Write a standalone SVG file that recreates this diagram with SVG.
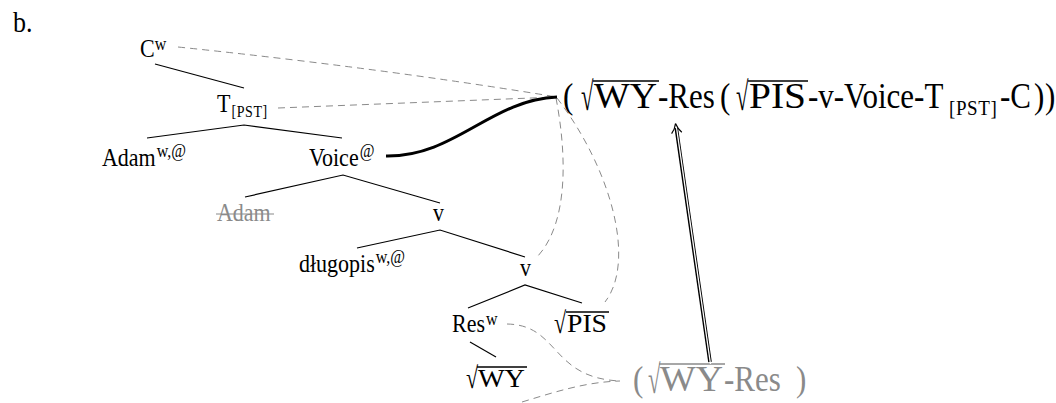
<svg xmlns="http://www.w3.org/2000/svg" width="1056" height="403" viewBox="0 0 1056 403" font-family="'Liberation Serif', 'DejaVu Serif', serif">
  <style>
    text { font-family: "Liberation Serif", "DejaVu Serif", serif; fill: #000; }
    .t { font-size: 22px; }
    .sup { font-size: 16px; }
    .sc { font-size: 14px; letter-spacing: 0.6px; }
    .big { font-size: 31px; }
    .rad { font-size: 31px; }
    .gray { fill: #8a8a8a; }
    .branch { stroke: #000; stroke-width: 1.2; fill: none; }
    .dash { stroke: #8a8a8a; stroke-width: 1; stroke-dasharray: 7 5; fill: none; }
    .bar { stroke-width: 1.3; }
  </style>

  <!-- text is set slightly tall: each label is stretched 1.15x about its baseline -->
  <text x="13" y="32" style="font-size:26px" transform="matrix(1 0 0 1.15 0 -4.8)">b.</text>

  <!-- tree branches -->
  <g id="branches">
    <line class="branch" x1="155" y1="64" x2="244" y2="88"/>
    <polyline class="branch" points="147,138 244,125 342,138"/>
    <polyline class="branch" points="245,197 343,175 440,203"/>
    <polyline class="branch" points="357,248 440,230 525,257"/>
    <polyline class="branch" points="468,308 525,285 582,303"/>
    <line class="branch" x1="470" y1="342" x2="496" y2="357"/>
  </g>

  <g id="node-C">
    <text class="t" x="140" y="57" transform="matrix(1 0 0 1.15 0 -8.55)">C<tspan class="sup" font-size="15" dy="-6">w</tspan></text>
  </g>
  <g id="node-T">
    <text class="t" x="217" y="112" transform="matrix(1 0 0 1.15 0 -16.8)">T<tspan class="sc" dx="1" dy="4">[PST]</tspan></text>
  </g>
  <g id="node-Adam">
    <text class="t" x="102" y="166" transform="matrix(1 0 0 1.15 0 -24.9)">Adam<tspan class="sup" dx="1" dy="-8">w,@</tspan></text>
  </g>
  <g id="node-Voice">
    <text class="t" x="309" y="166" transform="matrix(1 0 0 1.15 0 -24.9)">Voice<tspan class="sup" dx="1" dy="-8">@</tspan></text>
  </g>
  <g id="node-Adam-copy">
    <text class="t gray" x="217" y="221" transform="matrix(1 0 0 1.15 0 -33.15)">Adam</text>
    <line x1="216" y1="214" x2="274" y2="214" stroke="#8a8a8a" stroke-width="1.2"/>
  </g>
  <g id="node-v1">
    <text class="t" x="433" y="221" transform="matrix(1 0 0 1.15 0 -33.15)">v</text>
  </g>
  <g id="node-dlugopis">
    <text class="t" x="299" y="272" transform="matrix(1 0 0 1.15 0 -40.8)">długopis<tspan class="sup" dx="1" dy="-8">w,@</tspan></text>
  </g>
  <g id="node-v2">
    <text class="t" x="520" y="276" transform="matrix(1 0 0 1.15 0 -41.4)">v</text>
  </g>
  <g id="node-Res">
    <text class="t" x="452" y="332" transform="matrix(1 0 0 1.15 0 -49.8)">Res<tspan class="sup" font-size="15" dx="1" dy="-6">w</tspan></text>
  </g>
  <g id="node-PIS">
    <text class="t" style="font-size:26px" transform="translate(554,333) scale(0.85,1.15)">√</text>
    <line class="bar" x1="566" y1="312" x2="609" y2="312" stroke="#000"/>
    <text class="t" x="567" y="332" textLength="40" lengthAdjust="spacingAndGlyphs" transform="matrix(1 0 0 1.15 0 -49.8)">PIS</text>
  </g>
  <g id="node-WY">
    <text class="t" style="font-size:26px" transform="translate(466,388) scale(0.85,1.15)">√</text>
    <line class="bar" x1="477" y1="367" x2="527" y2="367" stroke="#000"/>
    <text class="t" x="478" y="387" textLength="47" lengthAdjust="spacingAndGlyphs" transform="matrix(1 0 0 1.15 0 -58.05)">WY</text>
  </g>

  <!-- linearised string -->
  <g id="node-string">
    <g transform="matrix(1 0 0 1.15 0 -16.2)">
      <text class="big" x="563" y="108">(</text>
      <text class="rad" x="594" y="108" textLength="63" lengthAdjust="spacingAndGlyphs">WY</text>
      <text class="big" x="658" y="108">-Res</text>
      <text class="big" x="720" y="108">(</text>
      <text class="rad" x="749" y="108" textLength="57" lengthAdjust="spacingAndGlyphs">PIS</text>
      <text class="big" x="808" y="108">-v-Voice-T</text>
      <text class="sc" x="949" y="114" style="font-size:19px">[PST]</text>
      <text class="big" x="1000" y="108">-C</text>
      <text class="big" x="1034" y="108">)</text>
      <text class="big" x="1045" y="108">)</text>
    </g>
    <text class="big" style="font-size:35px" transform="translate(581,110) scale(0.65,1.15)">√</text>
    <line class="bar" x1="593" y1="81" x2="659" y2="81" stroke="#000"/>
    <text class="big" style="font-size:35px" transform="translate(736,110) scale(0.65,1.15)">√</text>
    <line class="bar" x1="748" y1="81" x2="808" y2="81" stroke="#000"/>
  </g>

  <g id="node-string-small">
    <g transform="matrix(1 0 0 1.15 0 -58.65)">
      <text class="big gray" x="633" y="391">(</text>
      <text class="rad gray" x="660" y="391" textLength="63" lengthAdjust="spacingAndGlyphs">WY</text>
      <text class="big gray" x="724" y="391">-Res</text>
      <text class="big gray" x="796" y="391">)</text>
    </g>
    <text class="big gray" style="font-size:35px" transform="translate(648,393) scale(0.65,1.15)">√</text>
    <line class="bar" x1="659" y1="364" x2="725" y2="364" stroke="#8a8a8a"/>
  </g>

  <!-- connectors -->
  <g id="connectors">
    <path class="dash" d="M178 47 Q 380 68 557 97"/>
    <path class="dash" d="M278 108 L 557 97"/>
    <path class="dash" d="M556 98 C 566 150, 570 222, 537 257"/>
    <path class="dash" d="M557 98 C 612 170, 636 262, 605 302"/>
    <path class="dash" d="M507 324 C 560 325, 550 378, 620 381"/>
    <path class="dash" d="M522 402 C 555 392, 585 382, 620 381"/>
    <path d="M386 156 C 455 157, 490 100, 557 97" stroke="#000" stroke-width="3" fill="none"/>
    <!-- double arrow -->
    <path d="M710 362 L 676.3 128" stroke="#000" stroke-width="3.6" fill="none"/>
    <path d="M710.5 364 L 676.3 126" stroke="#fff" stroke-width="1.3" fill="none"/>
    <path d="M671.6 133.6 Q 675 129 675.5 123.5 Q 677.5 128.5 681.8 132.2" stroke="#000" stroke-width="1.2" fill="none"/>
  </g>
</svg>
